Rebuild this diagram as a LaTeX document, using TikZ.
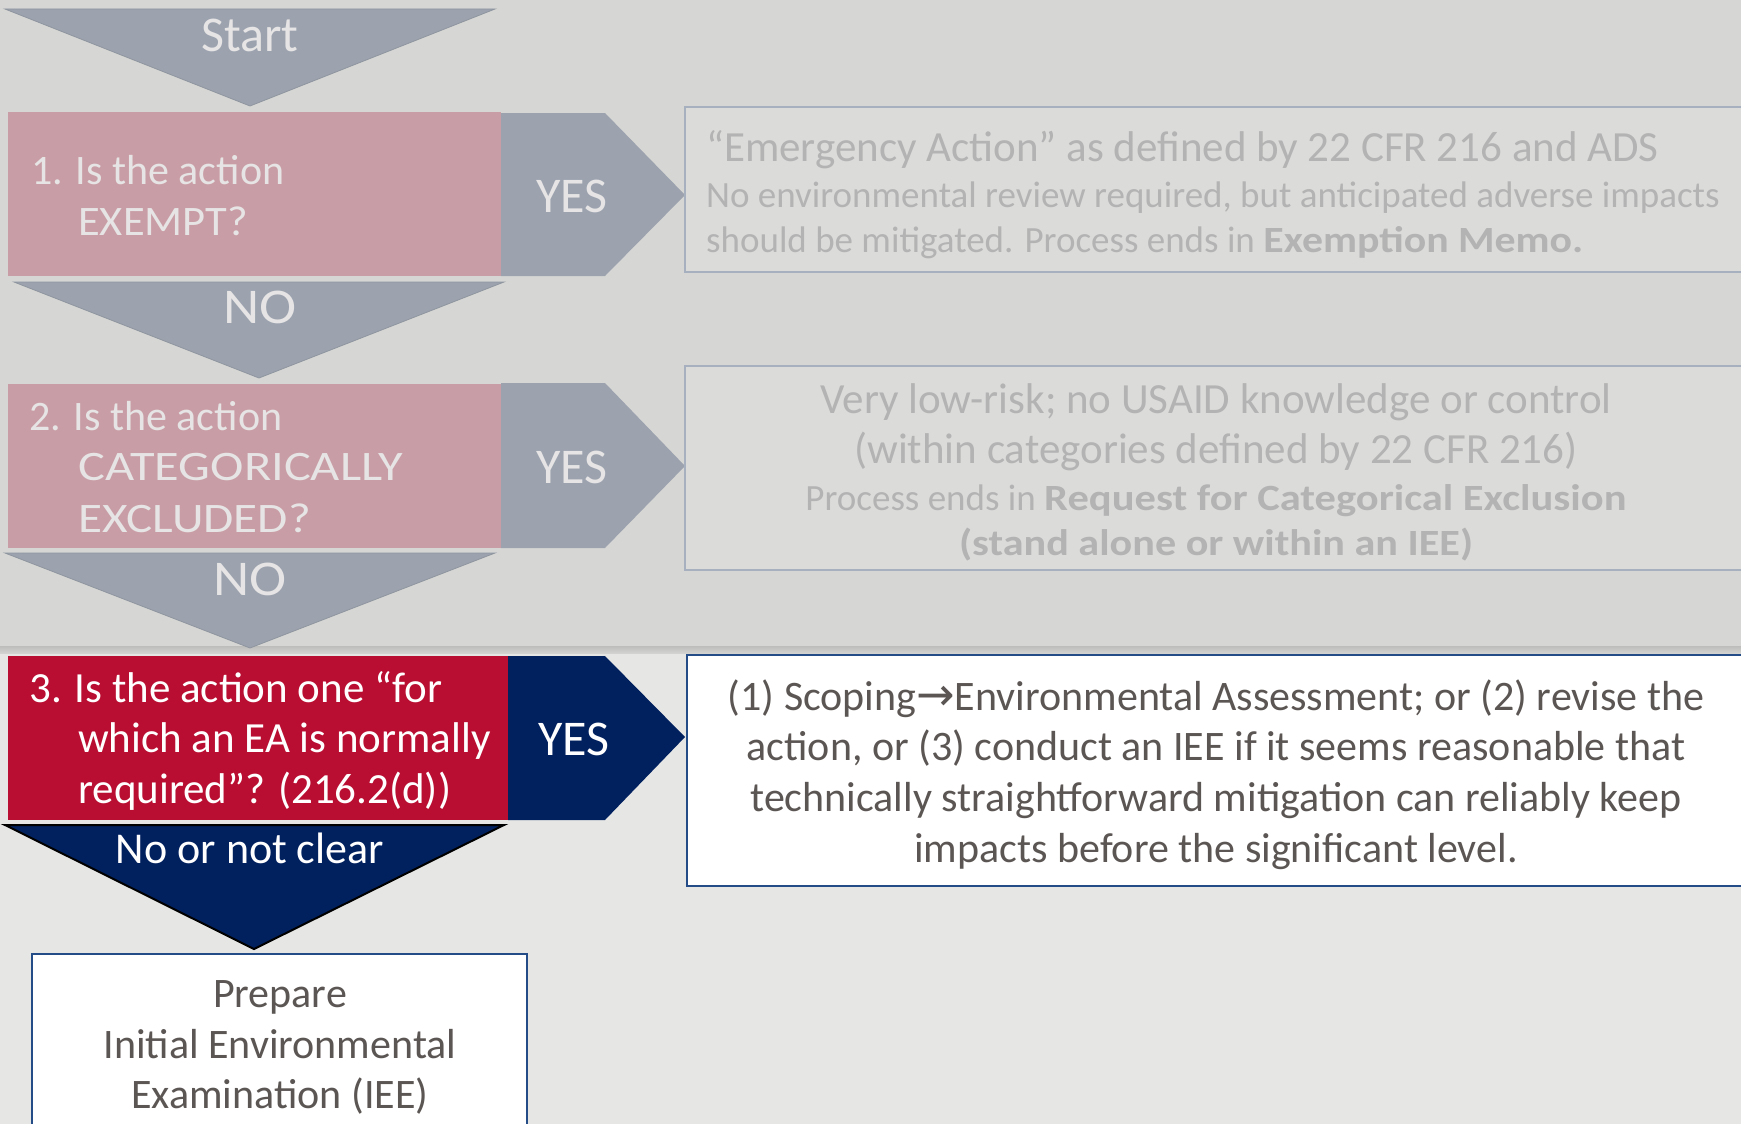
\documentclass[tikz,border=0pt]{standalone}
\usepackage{fontspec}
\usepackage{graphicx}
\setmainfont{Carlito}
\newfontfamily\arrowfont{DejaVu Sans}
\definecolor{bgtop}{HTML}{D6D6D4}
\definecolor{bglow}{HTML}{E6E6E5}
\definecolor{shadowc}{HTML}{BDBDBB}
\definecolor{shadowd}{HTML}{D2D2D0}
\definecolor{pinkq}{HTML}{C99DA5}
\definecolor{slate}{HTML}{9CA3AF}
\definecolor{slateedge}{HTML}{8F969F}
\definecolor{lighttxt}{HTML}{E6E4E4}
\definecolor{redq}{HTML}{B90D31}
\definecolor{navy}{HTML}{00205E}
\definecolor{fadefill}{HTML}{DBDBDA}
\definecolor{fadeline}{HTML}{A7B0BE}
\definecolor{fadetxt}{HTML}{B3B3B3}
\definecolor{darktxt}{HTML}{5B5654}
\definecolor{boxline}{HTML}{244C86}
\newcommand{\fsz}[1]{\fontsize{#1}{#1}\selectfont}
\newcommand{\wide}[2]{\scalebox{#1}[1]{#2}}
\begin{document}
\begin{tikzpicture}[x=1pt,y=-1pt,
  ctxt/.style={inner sep=0pt, anchor=base},
  ltxt/.style={inner sep=0pt, anchor=base west},
  fadedbox/.style={fill=fadefill, draw=fadeline, line width=2pt},
  whitebox/.style={fill=white, draw=boxline, line width=2.5pt},
  grayarrow/.style={fill=slate, draw=slateedge, line width=0.8pt},
  lbl/.style={ctxt, text=lighttxt, font=\fsz{50}},
  qtext/.style={ltxt, font=\fsz{42}},
  etext/.style={ltxt, text=fadetxt},
  cfade/.style={ctxt, text=fadetxt},
  dtext/.style={ctxt, text=darktxt, font=\fsz{42}}]
\useasboundingbox (0,0) rectangle (1741,1124);
% backgrounds
\fill[bglow] (0,0) rectangle (1741,1124);
\fill[bgtop] (0,0) rectangle (1741,646);
\shade[top color=shadowc, bottom color=shadowd] (0,646) rectangle (1741,653);

% Start
\fill[grayarrow] (5,9) -- (495,9) -- (250,106) -- cycle;
\node[lbl] (start) at (250,52) {Start};

% Question 1
\fill[pinkq] (8,112) rectangle (501,276);
\fill[slate] (501,113) -- (605,113) -- (685,195) -- (605,276) -- (501,276) -- cycle;
\node[qtext, text=lighttxt] (q1a) at (31,184) {1. Is the action};
\node[qtext, text=lighttxt] (q1b) at (78,235) {\wide{1.06}{EXEMPT?}};
\node[lbl] (yes1) at (572,212) {YES};
\fill[grayarrow] (14,282) -- (504,282) -- (259,378) -- cycle;
\node[lbl] (no1) at (260,323) {\wide{1.12}{NO}};

% Result 1
\filldraw[fadedbox] (685,107) rectangle (1760,272);
\node[etext, font=\fsz{43}] (r1a) at (706,161) {“Emergency Action” as defined by 22 CFR 216 and ADS};
\node[etext, font=\fsz{37}] (r1b) at (706,207) {No environmental review required, but anticipated adverse impacts};
\node[etext, font=\fsz{37}] (r1c) at (706,252) {should be mitigated. Process ends in \wide{1.13}{\textbf{Exemption Memo.}}};

% Question 2
\fill[pinkq] (8,384) rectangle (501,548);
\fill[slate] (501,383) -- (605,383) -- (685,466) -- (605,548) -- (501,548) -- cycle;
\node[qtext, text=lighttxt] (q2a) at (29,430) {2. Is the action};
\node[qtext, text=lighttxt] (q2b) at (78,480) {\wide{1.2}{CATEGORICALLY}};
\node[qtext, text=lighttxt] (q2c) at (78,532) {\wide{1.17}{EXCLUDED?}};
\node[lbl] (yes2) at (572,483) {YES};
\fill[grayarrow] (5,553) -- (495,553) -- (250,648) -- cycle;
\node[lbl] (no2) at (250,595) {\wide{1.12}{NO}};

% Result 2
\filldraw[fadedbox] (685,366) rectangle (1760,570);
\node[cfade, font=\fsz{43}] (r2a) at (1216,413) {Very low-risk; no USAID knowledge or control};
\node[cfade, font=\fsz{43}] (r2b) at (1216,463) {(within categories defined by 22 CFR 216)};
\node[cfade, font=\fsz{37}] (r2c) at (1216,510) {Process ends in \wide{1.15}{\textbf{Request for Categorical Exclusion}}};
\node[cfade, font=\fsz{37}] (r2d) at (1216,555) {\wide{1.14}{\textbf{(stand alone or within an IEE)}}};

% Question 3
\fill[redq] (8,656) rectangle (508,820);
\fill[navy] (508,656) -- (605,656) -- (685,737) -- (605,820) -- (508,820) -- cycle;
\node[qtext, text=white, font=\fsz{43}] (q3a) at (29,702) {3. Is the action one “for};
\node[qtext, text=white, font=\fsz{43}] (q3b) at (78,752) {which an EA is normally};
\node[qtext, text=white, font=\fsz{43}] (q3c) at (78,803) {required”? (216.2(d))};
\node[ctxt, text=white, font=\fsz{50}] (yes3) at (574,755) {YES};
\filldraw[fill=navy, draw=black, line width=2pt] (5,825) -- (504,825) -- (254,949) -- cycle;
\node[ctxt, text=white, font=\fsz{44}] (no3) at (250,863) {No or not clear};

% Result 3
\filldraw[whitebox] (687,655) rectangle (1760,886);
\node[dtext] (r3a) at (1216,710) {(1) Scoping{\arrowfont\fsz{46}→}Environmental Assessment; or (2) revise the};
\node[dtext] (r3b) at (1216,760) {action, or (3) conduct an IEE if it seems reasonable that};
\node[dtext] (r3c) at (1216,811) {technically straightforward mitigation can reliably keep};
\node[dtext] (r3d) at (1216,862) {impacts before the significant level.};

% IEE
\filldraw[whitebox] (32,954) rectangle (527,1140);
\node[dtext] (iee1) at (280,1007) {Prepare};
\node[dtext] (iee2) at (280,1058) {Initial Environmental};
\node[dtext] (iee3) at (280,1108) {Examination (IEE)};
\end{tikzpicture}
\end{document}
